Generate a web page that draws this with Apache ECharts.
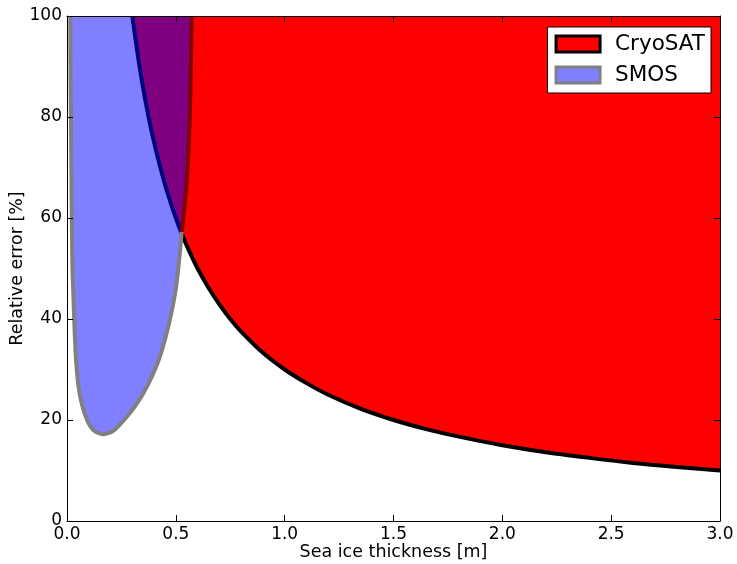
<!DOCTYPE html>
<html>
<head>
<meta charset="utf-8">
<script src="https://cdn.jsdelivr.net/npm/echarts@6/dist/echarts.min.js"></script>
<style>html,body{margin:0;padding:0;background:#fff}#c{width:737px;height:564px}</style>
</head>
<body>
<div id="c"></div>
<script>
// ---- data ----
const xTicks = [0.0, 0.5, 1.0, 1.5, 2.0, 2.5, 3.0];
const yTicks = [0, 20, 40, 60, 80, 100];

// CryoSAT: lower boundary of the region (error vs thickness)
const cryoX = [0.30, 0.32, 0.34, 0.36, 0.38, 0.40, 0.43, 0.46, 0.50, 0.53, 0.56, 0.60, 0.65, 0.70, 0.75, 0.80, 0.90, 1.00, 1.10, 1.20, 1.35, 1.50, 1.65, 1.80, 2.00, 2.20, 2.40, 2.60, 2.80, 3.00];
const cryoY = [100, 93.8, 88.2, 83.3, 78.9, 75.0, 69.8, 65.2, 60.0, 56.6, 53.6, 50.0, 46.2, 42.9, 40.0, 37.5, 33.3, 30.0, 27.3, 25.0, 22.2, 20.0, 18.2, 16.7, 15.0, 13.6, 12.5, 11.5, 10.7, 10.0];

// SMOS: closed boundary of the region (left edge down, around the minimum, right edge up)
const smosX = [0.015, 0.016, 0.018, 0.020, 0.022, 0.025, 0.029, 0.034, 0.041, 0.052, 0.069, 0.095, 0.121, 0.145, 0.167, 0.190, 0.217, 0.256, 0.317, 0.371, 0.424, 0.467, 0.498, 0.516, 0.527, 0.537, 0.550, 0.558, 0.564, 0.569, 0.573];
const smosY = [100, 90, 80, 70, 60, 50, 45, 38.8, 32.2, 26.9, 23.0, 19.7, 18.0, 17.4, 17.2, 17.4, 18.0, 19.7, 23.0, 26.9, 32.2, 38.8, 45.4, 52.0, 57.3, 61, 67, 73, 80, 90, 100];
const smosOverlapStart = 24; // index where the SMOS edge runs over the CryoSAT region

const FONT = 'DejaVu Sans';
const xMin = xTicks[0], xMax = xTicks[xTicks.length - 1];
const yMin = yTicks[0], yMax = yTicks[yTicks.length - 1];

const chart = echarts.init(document.getElementById('c'), null, {renderer: 'canvas'});

function cryoRender(params, api) {
  if (params.dataIndex !== 0) return null;
  const curve = cryoX.map((x, i) => api.coord([x, cryoY[i]]));
  const poly = curve.concat([api.coord([xMax, yMax]), api.coord([cryoX[0], yMax])]);
  return {
    type: 'group',
    children: [
      {type: 'polygon', shape: {points: poly}, style: {fill: '#ff0000', stroke: 'none'}},
      {type: 'polyline', shape: {points: curve, smooth: 0.3}, style: {fill: 'none', stroke: '#000000', lineWidth: 4, lineJoin: 'round'}}
    ]
  };
}

function smosRender(params, api) {
  if (params.dataIndex !== 0) return null;
  const pts = smosX.map((x, i) => api.coord([x, smosY[i]]));
  return {
    type: 'group',
    children: [
      {type: 'polygon', shape: {points: pts}, style: {fill: 'rgba(0,0,255,0.5)', stroke: 'none'}},
      {type: 'polyline', shape: {points: pts.slice(0, smosOverlapStart + 1), smooth: 0.3}, style: {fill: 'none', stroke: '#808080', lineWidth: 4, lineJoin: 'round'}},
      {type: 'polyline', shape: {points: pts.slice(smosOverlapStart), smooth: 0.3}, style: {fill: 'none', stroke: '#800000', lineWidth: 4, lineJoin: 'round'}}
    ]
  };
}

const axisCommon = {
  type: 'value',
  z: 10,
  axisLine: {show: true, onZero: false, lineStyle: {color: '#000', width: 1}},
  axisTick: {show: true, inside: true, length: 6, lineStyle: {color: '#000', width: 1}},
  splitLine: {show: false}
};

chart.setOption({
  animation: false,
  backgroundColor: '#ffffff',
  grid: {left: 67, right: 17, top: 16, bottom: 43, containLabel: false, outerBoundsMode: 'none'},
  xAxis: [
    Object.assign({}, axisCommon, {
      position: 'bottom', min: xMin, max: xMax, interval: 0.5,
      axisLabel: {show: true, margin: 5, color: '#000', fontFamily: FONT, fontSize: 17, formatter: v => v.toFixed(1)},
      name: 'Sea ice thickness [m]', nameLocation: 'middle', nameGap: 22, nameMoveOverlap: false,
      nameTextStyle: {color: '#000', fontFamily: FONT, fontSize: 17.5}
    }),
    Object.assign({}, axisCommon, {
      position: 'top', min: xMin, max: xMax, interval: 0.5, axisLabel: {show: false}
    })
  ],
  yAxis: [
    Object.assign({}, axisCommon, {
      position: 'left', min: yMin, max: yMax, interval: 20,
      axisLabel: {show: true, margin: 5, color: '#000', fontFamily: FONT, fontSize: 17},
      name: 'Relative error [%]', nameLocation: 'middle', nameGap: 41, nameMoveOverlap: false,
      nameTextStyle: {color: '#000', fontFamily: FONT, fontSize: 17.5}
    }),
    Object.assign({}, axisCommon, {
      position: 'right', min: yMin, max: yMax, interval: 20, axisLabel: {show: false}
    })
  ],
  legend: {
    selectedMode: false,
    orient: 'vertical',
    right: 26, top: 27,
    backgroundColor: '#ffffff',
    borderColor: '#000000', borderWidth: 1, borderRadius: 0,
    padding: [6, 6, 7, 7],
    itemWidth: 44, itemHeight: 16, itemGap: 9,
    textStyle: {color: '#000', fontFamily: FONT, fontSize: 21.5, padding: [0, 0, 0, 10]},
    data: [
      {name: 'CryoSAT', icon: 'rect', itemStyle: {color: '#ff0000', borderColor: '#000000', borderWidth: 3}},
      {name: 'SMOS', icon: 'rect', itemStyle: {color: '#8080ff', borderColor: '#808080', borderWidth: 3}}
    ]
  },
  series: [
    {
      name: 'CryoSAT', type: 'custom', clip: true, xAxisIndex: 0, yAxisIndex: 0,
      itemStyle: {color: '#ff0000'},
      renderItem: cryoRender,
      encode: {x: 0, y: 1},
      data: cryoX.map((x, i) => [x, cryoY[i]])
    },
    {
      name: 'SMOS', type: 'custom', clip: true, xAxisIndex: 0, yAxisIndex: 0,
      itemStyle: {color: '#8080ff'},
      renderItem: smosRender,
      encode: {x: 0, y: 1},
      data: smosX.map((x, i) => [x, smosY[i]])
    }
  ]
});
</script>
</body>
</html>
